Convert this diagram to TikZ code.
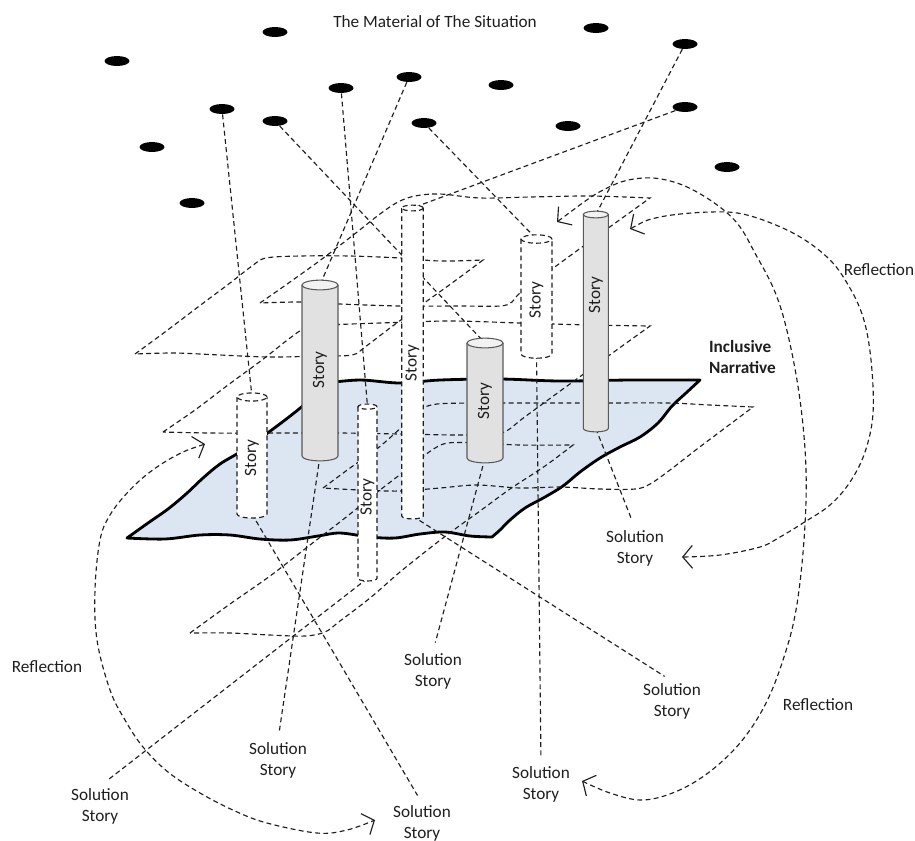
\documentclass[tikz,border=0pt]{standalone}
\usepackage{fontspec}
\setmainfont{Carlito}
\usetikzlibrary{shapes.geometric,arrows.meta}
\definecolor{sheetblue}{HTML}{DCE6F2}
\definecolor{cylfill}{HTML}{E1E1E1}
\definecolor{cylcapfill}{HTML}{F2F2F2}
\definecolor{ink}{HTML}{1E1E1E}
\pgfdeclarelayer{sheet}
\pgfdeclarelayer{lines}
\pgfsetlayers{sheet,lines,main}
\newcommand{\labelfont}{\fontsize{9.8pt}{11.9pt}\selectfont}
% a vertical story cylinder: #1 name, #2 x, #3 y of top ellipse centre,
% #4 y of bottom ellipse centre, #5 diameter, #6 kind (gray or white)
\newcommand{\storycylinder}[6]{%
  \pgfmathsetmacro{\cylrad}{#5*0.01}%
  \pgfmathsetmacro{\cylecc}{#5*0.01*0.27}%
  \node[cylcore, minimum width={#5*0.02cm}, minimum height={(#4-#3)*0.02cm}] (#1) at (#2,{(#3+#4)/2}) {};
  \path[#6body] (#1.north west) -- (#1.south west)
     arc[start angle=180, end angle=360, x radius=\cylrad cm, y radius=\cylecc cm]
     -- (#1.north east) -- cycle;
  \draw[#6line] (#1.north west) -- (#1.south west)
     arc[start angle=180, end angle=360, x radius=\cylrad cm, y radius=\cylecc cm]
     -- (#1.north east);
  \path[#6cap] (#1.north) ellipse[x radius=\cylrad cm, y radius=\cylecc cm];
}
\begin{document}
\begin{tikzpicture}[x=0.02cm,y=-0.02cm,
  blackdot/.style={ellipse, fill=black, minimum width=0.5cm, minimum height=0.2cm, inner sep=0pt},
  wire/.style={draw=ink, line width=0.65pt, dash pattern=on 2.8pt off 1.9pt},
  narrative/.style={fill=sheetblue, draw=black, line width=1.6pt, line join=round},
  cylcore/.style={rectangle, inner sep=0pt, outer sep=0pt},
  graybody/.style={fill=cylfill},
  grayline/.style={draw=black!65, line width=0.6pt},
  graycap/.style={fill=cylcapfill, draw=black!65, line width=0.6pt},
  whitebody/.style={fill=white},
  whiteline/.style={wire},
  whitecap/.style={fill=white, wire},
  storytext/.style={rotate=90, font=\labelfont, text=ink, inner sep=0pt},
  caption/.style={font=\labelfont, text=ink, align=center, inner sep=1pt},
  barb/.tip={Straight Barb[length=5.5pt,width=13pt]},
  reflect/.style={wire, barb-barb},
  tosolution/.style={wire, shorten >=5pt},
]
\useasboundingbox (0,0) rectangle (915,840);

% ---------- title and the material points ----------
\node[caption] (title) at (435,22) {The Material of The Situation};
\node[blackdot] (m1)  at (117,61)  {};
\node[blackdot] (m2)  at (275,32)  {};
\node[blackdot] (m3)  at (222,109) {};
\node[blackdot] (m4)  at (275,121) {};
\node[blackdot] (m5)  at (341,88)  {};
\node[blackdot] (m6)  at (409,77)  {};
\node[blackdot] (m7)  at (424,123) {};
\node[blackdot] (m8)  at (501,85)  {};
\node[blackdot] (m9)  at (568,126) {};
\node[blackdot] (m10) at (596,28)  {};
\node[blackdot] (m11) at (685,44)  {};
\node[blackdot] (m12) at (685,107) {};
\node[blackdot] (m13) at (152,147) {};
\node[blackdot] (m14) at (192,203) {};
\node[blackdot] (m15) at (727,167) {};

% ---------- story cylinders ----------
\storycylinder{cA}{252}{397}{514}{30}{white}
\storycylinder{cB}{320}{285}{456}{36}{gray}
\storycylinder{cC}{367.5}{406.6}{578.4}{19}{white}
\storycylinder{cD}{412.5}{208}{516}{21.5}{white}
\storycylinder{cE}{485}{343}{458}{36}{gray}
\storycylinder{cF}{536.5}{239}{354}{31}{white}
\storycylinder{cG}{595.8}{214.5}{428.5}{25}{gray}
\node[storytext] (tA) at (252,458)   {Story};
\node[storytext] (tB) at (320,370)   {Story};
\node[storytext] (tC) at (367.5,497) {Story};
\node[storytext] (tD) at (412.5,363) {Story};
\node[storytext] (tE) at (485,401)   {Story};
\node[storytext] (tF) at (536.5,300) {Story};
\node[storytext] (tG) at (595.8,295) {Story};

% ---------- labels ----------
\node[caption, font=\labelfont\bfseries, align=left, anchor=west] (incl) at (707,357) {Inclusive\\Narrative};
\node[caption] (s1) at (635,548) {Solution\\Story};
\node[caption] (s2) at (278,760) {Solution\\Story};
\node[caption] (s3) at (433,671) {Solution\\Story};
\node[caption] (s4) at (672,701) {Solution\\Story};
\node[caption] (s5) at (100,806) {Solution\\Story};
\node[caption] (s6) at (422,823) {Solution\\Story};
\node[caption] (s7) at (541,784) {Solution\\Story};
\node[caption] (r1) at (879,270) {Reflection};
\node[caption] (r2) at (47,667)  {Reflection};
\node[caption] (r3) at (818,705) {Reflection};

% ---------- the inclusive narrative sheet ----------
\begin{pgfonlayer}{sheet}
\path[narrative]
  plot[smooth, tension=0.55] coordinates {(127,538) (148,523) (168,509) (186,494) (203,478) (220,464) (240,452) (262,437) (285,420) (305,404) (318,391) (326,383)}
  -- plot[smooth, tension=0.55] coordinates {(326,383) (360,380) (400,383) (440,380) (500,379) (560,381) (630,380) (700,380)}
  -- plot[smooth, tension=0.55] coordinates {(700,380) (686,393) (672,406) (658,423) (640,437) (620,447) (600,458) (580,472) (563,486) (545,497) (525,508) (510,520) (500,530) (492,537)}
  -- plot[smooth, tension=0.55] coordinates {(492,537) (470,536) (445,532) (420,534) (395,538) (370,537) (340,533) (318,536) (290,540) (260,539) (230,535) (200,535) (165,539) (127,538)}
  -- cycle;
\end{pgfonlayer}

\begin{pgfonlayer}{lines}
% dashed sheets of partial narratives
\draw[wire] plot[smooth, tension=0.55] coordinates {(260,303) (290,282) (322,259) (352,236) (380,214) (398,202) (415,196) (440,194) (480,198) (530,197) (590,196) (650,198)}
  -- plot[smooth, tension=0.55] coordinates {(650,198) (600,234) (552,269) (520,293) (512,302) (500,306) (460,306) (400,306) (340,304) (300,302) (260,303)};
\draw[wire] plot[smooth, tension=0.55] coordinates {(135,354) (165,332) (198,307) (230,283) (252,266) (266,258) (300,256) (350,256) (400,258) (440,261) (483,260)}
  -- plot[smooth, tension=0.55] coordinates {(483,260) (452,283) (420,306) (390,328) (365,347) (352,355) (320,356) (270,357) (220,355) (175,353) (135,354)};
\draw[wire] plot[smooth, tension=0.55] coordinates {(163,432) (195,410) (228,385) (262,360) (290,338) (306,328) (330,325) (380,323) (450,321) (520,323) (590,325) (650,326)}
  -- plot[smooth, tension=0.55] coordinates {(650,326) (618,349) (585,373) (552,397) (522,419) (508,430) (495,434) (460,435) (400,434) (340,433) (267,433) (210,433) (163,432)};
\draw[wire] plot[smooth, tension=0.55] coordinates {(323,488) (350,468) (378,448) (404,425) (420,410) (437,404) (480,403) (537,403) (600,403) (667,403) (710,405) (753,407)}
  -- plot[smooth, tension=0.55] coordinates {(753,407) (725,428) (697,449) (670,470) (650,484) (635,489) (600,489) (560,487) (520,488) (477,485) (440,488) (400,491) (360,490) (323,488)};
\draw[wire] plot[smooth, tension=0.55] coordinates {(190,633) (230,604) (270,576) (310,545) (345,518) (380,490) (410,467) (432,450) (448,443) (480,443) (520,445) (573,445)}
  -- plot[smooth, tension=0.55] coordinates {(573,445) (545,466) (510,489) (480,511) (455,529) (430,548) (400,572) (370,598) (340,621) (325,632) (305,636) (270,635) (230,633) (190,633)};

% material points feeding the stories
\draw[wire] (m3)  -- (cA.north);
\draw[wire] (m4)  -- (cE.north);
\draw[wire] (m5)  -- (cC.north);
\draw[wire] (m6)  -- (cB.north);
\draw[wire] (m7)  -- (cF.north);
\draw[wire] (m11) -- (cG.north);
\draw[wire] (m12) -- (cD.north);

% stories leading to solution stories
\draw[tosolution] (cA.south) -- (s6.north);
\draw[tosolution] (cB.south) -- (s2.north);
\draw[tosolution] (cC.south) -- (s5.north);
\draw[tosolution] (cD.south) -- (s4.north);
\draw[tosolution] (cE.south) -- (s3.north);
\draw[tosolution] (cF.south) -- (s7.north);
\draw[tosolution] (cG.south) -- (s1.north);

% reflection loops
\draw[reflect] plot[smooth, tension=0.6] coordinates {(557,222) (607,188) (643,178) (677,183) (710,200) (737,223) (756,255) (775,292) (788,335) (800,400) (806,470) (804,540) (796,610) (783,660) (765,705) (740,743) (708,773) (675,792) (642,800) (610,793) (582,781)};
\draw[reflect] plot[smooth, tension=0.6] coordinates {(630,229) (660,217) (710,212) (747,215) (793,233) (827,257) (847,283) (863,317) (871,360) (873,413) (865,452) (850,482) (830,505) (803,523) (780,537) (760,547) (720,555) (682,557)};
\draw[reflect] plot[smooth, tension=0.6] coordinates {(205,444) (177,455) (150,472) (128,492) (110,515) (100,540) (95,590) (97,640) (110,690) (125,720) (143,747) (168,772) (200,793) (235,811) (267,823) (317,833) (347,830) (375,820)};
\end{pgfonlayer}
\end{tikzpicture}
\end{document}
